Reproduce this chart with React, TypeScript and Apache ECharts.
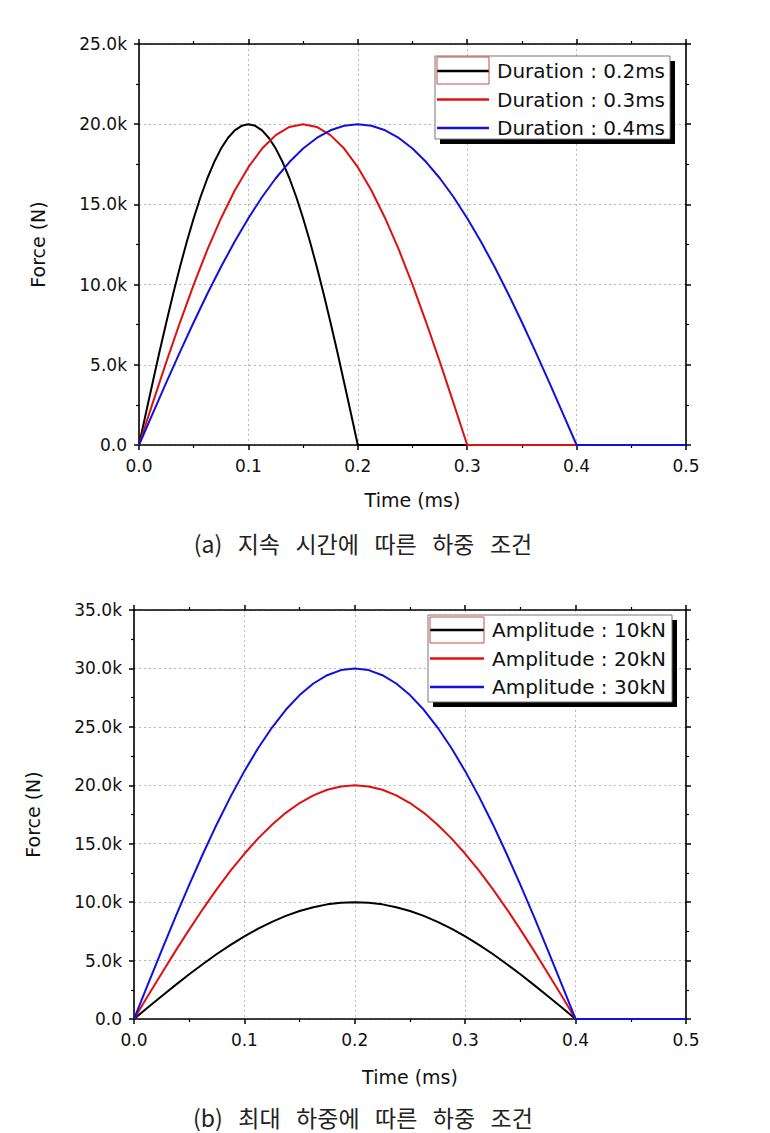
import React, { useEffect, useRef } from "react";
import * as echarts from "echarts";

// time (ms) for each pulse; last point closes the flat tail at 0.5 ms
const t02 = [0, 0.00625, 0.0125, 0.01875, 0.025, 0.03125, 0.0375, 0.04375, 0.05, 0.05625, 0.0625, 0.06875, 0.075, 0.08125, 0.0875, 0.09375, 0.1, 0.10625, 0.1125, 0.11875, 0.125, 0.13125, 0.1375, 0.14375, 0.15, 0.15625, 0.1625, 0.16875, 0.175, 0.18125, 0.1875, 0.19375, 0.2, 0.5];
const t03 = [0, 0.0125, 0.025, 0.0375, 0.05, 0.0625, 0.075, 0.0875, 0.1, 0.1125, 0.125, 0.1375, 0.15, 0.1625, 0.175, 0.1875, 0.2, 0.2125, 0.225, 0.2375, 0.25, 0.2625, 0.275, 0.2875, 0.3, 0.5];
const t04 = [0, 0.0125, 0.025, 0.0375, 0.05, 0.0625, 0.075, 0.0875, 0.1, 0.1125, 0.125, 0.1375, 0.15, 0.1625, 0.175, 0.1875, 0.2, 0.2125, 0.225, 0.2375, 0.25, 0.2625, 0.275, 0.2875, 0.3, 0.3125, 0.325, 0.3375, 0.35, 0.3625, 0.375, 0.3875, 0.4, 0.5];

// Force (N) — chart (a)
const dur02 = [0, 1960, 3900, 5810, 7650, 9430, 11110, 12690, 14140, 15460, 16630, 17640, 18480, 19140, 19620, 19900, 20000, 19900, 19620, 19140, 18480, 17640, 16630, 15460, 14140, 12690, 11110, 9430, 7650, 5810, 3900, 1960, 0, 0];
const dur03 = [0, 2610, 5180, 7650, 10000, 12180, 14140, 15870, 17320, 18480, 19320, 19830, 20000, 19830, 19320, 18480, 17320, 15870, 14140, 12180, 10000, 7650, 5180, 2610, 0, 0];
const dur04 = [0, 1960, 3900, 5810, 7650, 9430, 11110, 12690, 14140, 15460, 16630, 17640, 18480, 19140, 19620, 19900, 20000, 19900, 19620, 19140, 18480, 17640, 16630, 15460, 14140, 12690, 11110, 9430, 7650, 5810, 3900, 1960, 0, 0];

// Force (N) — chart (b)
const amp10 = [0, 980, 1950, 2900, 3830, 4710, 5560, 6340, 7070, 7730, 8310, 8820, 9240, 9570, 9810, 9950, 10000, 9950, 9810, 9570, 9240, 8820, 8310, 7730, 7070, 6340, 5560, 4710, 3830, 2900, 1950, 980, 0, 0];
const amp20 = [0, 1960, 3900, 5810, 7650, 9430, 11110, 12690, 14140, 15460, 16630, 17640, 18480, 19140, 19620, 19900, 20000, 19900, 19620, 19140, 18480, 17640, 16630, 15460, 14140, 12690, 11110, 9430, 7650, 5810, 3900, 1960, 0, 0];
const amp30 = [0, 2940, 5850, 8710, 11480, 14140, 16670, 19030, 21210, 23190, 24940, 26460, 27720, 28710, 29420, 29860, 30000, 29860, 29420, 28710, 27720, 26460, 24940, 23190, 21210, 19030, 16670, 14140, 11480, 8710, 5850, 2940, 0, 0];

const names1 = ["Duration : 0.2ms", "Duration : 0.3ms", "Duration : 0.4ms"];
const names2 = ["Amplitude : 10kN", "Amplitude : 20kN", "Amplitude : 30kN"];
const colors = ["#000000", "#e01010", "#1010e0"];
const captionA = "(a)   지속   시간에   따른   하중   조건";
const captionB = "(b)   최대   하중에   따른   하중   조건";

const FONT = "DejaVu Sans";

function pairs(ts: number[], ys: number[]) {
  return ts.map((t, i) => [t, ys[i]]);
}

function xAxes(gridIndex: number) {
  const common = {
    type: "value",
    gridIndex,
    min: 0,
    max: 0.5,
    interval: 0.1,
    axisLine: { show: true, onZero: false, lineStyle: { color: "#000", width: 1.6 } },
    axisTick: { show: true, inside: false, length: 5, lineStyle: { color: "#000", width: 1.5 } },
    minorTick: { show: true, splitNumber: 2, length: 3, lineStyle: { color: "#000", width: 1.2 } },
  };
  return [
    {
      ...common,
      position: "bottom",
      name: "Time (ms)",
      nameLocation: "middle",
      nameGap: gridIndex === 0 ? 45 : 48,
      nameTextStyle: { fontFamily: FONT, fontSize: 19, color: "#111" },
      axisLabel: {
        margin: 12,
        fontFamily: FONT,
        fontSize: 17,
        color: "#111",
        formatter: (v: number) => v.toFixed(1),
      },
      splitLine: { show: true, lineStyle: { color: "#b8b8b8", type: [2, 3], width: 1 } },
    },
    {
      ...common,
      position: "top",
      axisLabel: { show: false },
      splitLine: { show: false },
    },
  ];
}

function yAxes(gridIndex: number, max: number) {
  const common = {
    type: "value",
    gridIndex,
    min: 0,
    max,
    interval: 5000,
    axisLine: { show: true, onZero: false, lineStyle: { color: "#000", width: 1.6 } },
    axisTick: { show: true, inside: false, length: 5, lineStyle: { color: "#000", width: 1.5 } },
    minorTick: { show: true, splitNumber: 2, length: 3, lineStyle: { color: "#000", width: 1.2 } },
  };
  return [
    {
      ...common,
      position: "left",
      name: "Force (N)",
      nameLocation: "middle",
      nameGap: 92,
      nameRotate: 90,
      nameTextStyle: { fontFamily: FONT, fontSize: 19, color: "#111" },
      axisLabel: {
        margin: 12,
        fontFamily: FONT,
        fontSize: 17,
        color: "#111",
        formatter: (v: number) => (v === 0 ? "0.0" : (v / 1000).toFixed(1) + "k"),
      },
      splitLine: { show: true, lineStyle: { color: "#b8b8b8", type: [2, 3], width: 1 } },
    },
    {
      ...common,
      position: "right",
      axisLabel: { show: false },
      splitLine: { show: false },
    },
  ];
}

function lineSeries(name: string, ts: number[], ys: number[], color: string, axisIdx: number) {
  return {
    type: "line",
    name,
    xAxisIndex: axisIdx,
    yAxisIndex: axisIdx,
    data: pairs(ts, ys),
    symbol: "none",
    lineStyle: { color, width: 2 },
    itemStyle: { color },
    z: 2,
  };
}

function legendBox(x: number, y: number, w: number, h: number, rx: number, ry: number, rw: number, rh: number) {
  return [
    { type: "rect", z: 3, shape: { x: x + 5, y: y + 5, width: w, height: h }, style: { fill: "#000" } },
    { type: "rect", z: 3, shape: { x, y, width: w, height: h }, style: { fill: "#fff", stroke: "#777", lineWidth: 1 } },
    { type: "rect", z: 6, shape: { x: rx, y: ry, width: rw, height: rh }, style: { fill: "none", stroke: "#d04848", lineWidth: 1 } },
  ];
}

function legendCfg(data: string[], left: number, top: number, w: number) {
  return {
    data,
    orient: "vertical",
    left,
    top,
    padding: 0,
    icon: "rect",
    itemWidth: w,
    itemHeight: 2.5,
    itemGap: 8.5,
    z: 5,
    textStyle: { fontFamily: FONT, fontSize: 20, color: "#111", lineHeight: 20, padding: [0, 0, 0, 3] },
  };
}

function caption(text: string, y: number) {
  return {
    type: "text",
    x: 363,
    y,
    z: 10,
    style: {
      text,
      fontFamily: "Noto Sans CJK KR",
      fontSize: 23,
      fill: "#222",
      textAlign: "center",
      textVerticalAlign: "middle",
    },
  };
}

export default function App() {
  const ref = useRef<HTMLDivElement>(null);
  useEffect(() => {
    if (!ref.current) return;
    const chart = echarts.init(ref.current, null, { renderer: "svg" });
    const option = {
      animation: false,
      backgroundColor: "#fff",
      grid: [
        { left: 139, top: 44, width: 547, height: 401 },
        { left: 134, top: 610, width: 552, height: 409 },
      ],
      xAxis: [...xAxes(0), ...xAxes(1)],
      yAxis: [...yAxes(0, 25000), ...yAxes(1, 35000)],
      legend: [legendCfg(names1, 437, 61, 52), legendCfg(names2, 430, 620, 54)],
      graphic: [
        ...legendBox(435, 56, 235, 83, 437, 57, 52, 27),
        ...legendBox(428, 615, 244, 87, 430, 617, 54, 26),
        caption(captionA, 543),
        caption(captionB, 1117),
      ],
      series: [
        lineSeries(names1[0], t02, dur02, colors[0], 0),
        lineSeries(names1[1], t03, dur03, colors[1], 0),
        lineSeries(names1[2], t04, dur04, colors[2], 0),
        lineSeries(names2[0], t04, amp10, colors[0], 2),
        lineSeries(names2[1], t04, amp20, colors[1], 2),
        lineSeries(names2[2], t04, amp30, colors[2], 2),
      ],
    };
    chart.setOption(option as any);
    return () => chart.dispose();
  }, []);
  return (
    <div
      ref={ref}
      style={{ position: "absolute", left: 0, top: 0, width: 770, height: 1133 }}
    />
  );
}
